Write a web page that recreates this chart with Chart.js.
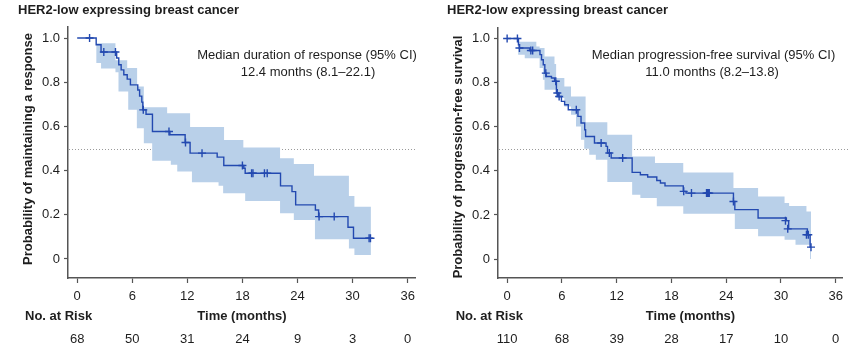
<!DOCTYPE html>
<html><head><meta charset="utf-8">
<script src="https://cdn.jsdelivr.net/npm/chart.js@4/dist/chart.umd.min.js"></script>
<style>
html,body{margin:0;padding:0;background:#fff;width:849px;height:360px;overflow:hidden}
#cl{position:absolute;left:0;top:0}
#cr{position:absolute;left:425px;top:0}
</style>
</head><body>
<canvas id="cl" width="425" height="360"></canvas>
<canvas id="cr" width="424" height="360"></canvas>
<script>
// ---------- shared ticks ----------
const xTicks = [0, 6, 12, 18, 24, 30, 36];
const yTicks = [0, 0.2, 0.4, 0.6, 0.8, 1.0];

// ---------- LEFT: duration of response ----------
const leftTitle = "HER2-low expressing breast cancer";
const leftYTitle = "Probability of maintaining a response";
const leftNote1 = "Median duration of response (95% CI)";
const leftNote2 = "12.4 months (8.1\u201322.1)";
const leftRisk = [68, 50, 31, 24, 9, 3, 0];
const leftKmTimes = [0, 2.07, 2.6, 4.3, 4.53, 4.79, 5.08, 5.45, 5.8, 6.6, 6.8, 7.04, 7.15, 7.5, 8.2, 10.1, 11.76, 12.3, 15.25, 15.97, 18.15, 18.3, 22.15, 23.4, 23.8, 25.95, 26.3, 29.5, 30.1, 31.95];
const leftKmSurv  = [1.0, 0.97, 0.937, 0.91, 0.879, 0.856, 0.834, 0.814, 0.788, 0.765, 0.737, 0.71, 0.675, 0.655, 0.577, 0.562, 0.527, 0.479, 0.461, 0.423, 0.411, 0.388, 0.331, 0.305, 0.245, 0.222, 0.192, 0.144, 0.094, 0.094];
const leftCensorTimes = [1.35, 2.9, 4.17, 7.2, 10.0, 11.8, 13.6, 18.0, 19.0, 19.15, 20.4, 20.7, 26.35, 28.0, 31.8, 31.95];
const leftCensorSurv  = [1.0, 0.937, 0.937, 0.675, 0.577, 0.527, 0.479, 0.423, 0.388, 0.388, 0.388, 0.388, 0.192, 0.192, 0.094, 0.094];
const leftUpperTimes = [2.07, 4.17, 5.45, 6.53, 7.26, 9.8, 12.3, 16.0, 18.1, 22.1, 23.6, 25.8, 29.6, 30.2, 32.0];
const leftUpperVals  = [0.977, 0.90, 0.864, 0.781, 0.687, 0.66, 0.597, 0.539, 0.505, 0.456, 0.43, 0.377, 0.285, 0.237, 0.237];
const leftLowerTimes = [2.07, 2.6, 4.17, 4.5, 5.56, 6.5, 7.26, 8.17, 10.2, 10.9, 12.5, 15.4, 15.9, 18.3, 22.1, 23.6, 25.9, 29.6, 30.2, 32.0];
const leftLowerVals  = [0.887, 0.862, 0.845, 0.758, 0.675, 0.592, 0.524, 0.445, 0.426, 0.396, 0.347, 0.331, 0.298, 0.263, 0.207, 0.177, 0.089, 0.048, 0.018, 0.018];

// ---------- RIGHT: progression-free survival ----------
const rightTitle = "HER2-low expressing breast cancer";
const rightYTitle = "Probability of progression-free survival";
const rightNote1 = "Median progression-free survival (95% CI)";
const rightNote2 = "11.0 months (8.2\u201313.8)";
const rightRisk = [110, 68, 39, 28, 17, 10, 0];
const rightKmTimes = [0, 1.24, 1.35, 2.5, 3.6, 3.77, 3.96, 4.13, 4.3, 4.86, 5.2, 5.4, 5.6, 5.95, 6.3, 6.7, 7.76, 8.1, 8.5, 8.6, 9.57, 10.84, 11.0, 11.4, 13.7, 14.6, 15.4, 16.4, 16.8, 17.3, 19.3, 19.6, 24.8, 24.95, 27.5, 30.6, 30.85, 32.9, 33.2, 33.3];
const rightKmSurv  = [1.0, 0.972, 0.957, 0.946, 0.927, 0.904, 0.881, 0.843, 0.828, 0.821, 0.806, 0.753, 0.737, 0.715, 0.70, 0.677, 0.647, 0.617, 0.586, 0.556, 0.526, 0.511, 0.481, 0.458, 0.393, 0.382, 0.372, 0.356, 0.345, 0.332, 0.307, 0.299, 0.261, 0.224, 0.186, 0.174, 0.137, 0.110, 0.054, 0.054];
const rightCensorTimes = [0, 1.13, 1.35, 2.6, 2.8, 4.24, 5.33, 5.5, 5.7, 7.58, 10.3, 11.2, 12.66, 19.35, 20.2, 21.85, 21.95, 22.05, 22.15, 24.8, 30.5, 30.75, 32.8, 33.0, 33.3];
const rightCensorSurv  = [1.0, 1.0, 0.957, 0.946, 0.946, 0.843, 0.806, 0.753, 0.737, 0.677, 0.526, 0.481, 0.458, 0.307, 0.299, 0.299, 0.299, 0.299, 0.299, 0.261, 0.174, 0.137, 0.110, 0.110, 0.054];
const rightUpperTimes = [1.2, 3.2, 3.56, 4.1, 5.19, 5.37, 6.27, 7.0, 8.6, 10.98, 13.7, 16.2, 19.3, 24.8, 27.5, 30.4, 30.9, 32.8, 33.3];
const rightUpperVals  = [0.985, 0.964, 0.957, 0.919, 0.885, 0.821, 0.783, 0.737, 0.62, 0.564, 0.465, 0.435, 0.393, 0.322, 0.284, 0.254, 0.24, 0.216, 0.216];
const rightLowerTimes = [1.2, 1.93, 3.56, 3.92, 4.1, 5.37, 6.27, 7.0, 7.55, 8.09, 8.45, 9.0, 9.72, 10.98, 13.7, 14.6, 16.4, 19.3, 24.95, 27.5, 30.4, 31.6, 33.2, 33.3];
const rightLowerVals  = [0.926, 0.91, 0.866, 0.813, 0.768, 0.73, 0.692, 0.654, 0.601, 0.541, 0.50, 0.473, 0.45, 0.349, 0.292, 0.277, 0.239, 0.205, 0.136, 0.103, 0.088, 0.065, 0.0, 0.0];

// ---------- drawing ----------
const FONT = "'Liberation Sans', Arial, Helvetica, sans-serif";
const BLUE = '#2349b0';
const BAND = '#b9d0e9';
const AXIS = '#555555';
const TXT = '#1e1e1e';

function pts(ts, vs) { return ts.map((t, i) => ({ x: t, y: vs[i] })); }

function build(id, c) {
  const txtPlugin = {
    id: 'txt' + id,
    beforeDatasetsDraw(chart) {
      const ctx = chart.ctx, ys = chart.scales.y;
      const y = Math.round(ys.getPixelForValue(0.5)) + 0.5;
      ctx.save();
      ctx.strokeStyle = '#9a9a9a';
      ctx.lineWidth = 1;
      ctx.setLineDash([1, 2]);
      ctx.beginPath();
      ctx.moveTo(c.dotFrom, y);
      ctx.lineTo(c.dotTo, y);
      ctx.stroke();
      ctx.restore();
    },
    afterDraw(chart) {
      const ctx = chart.ctx, xs = chart.scales.x;
      ctx.save();
      ctx.fillStyle = TXT;
      ctx.textBaseline = 'middle';
      // title
      ctx.font = 'bold 13px ' + FONT;
      ctx.textAlign = 'left';
      ctx.fillText(c.title, c.titleX, 10);
      // annotation
      ctx.font = '13px ' + FONT;
      ctx.textAlign = 'center';
      ctx.fillText(c.note1, c.note1X, 55);
      ctx.fillText(c.note2, c.note2X, 72);
      // axis title x
      ctx.font = 'bold 13px ' + FONT;
      ctx.fillText('Time (months)', c.timeX, 316);
      ctx.textAlign = 'left';
      ctx.fillText('No. at Risk', c.riskLabelX, 316);
      // risk numbers
      ctx.font = '13px ' + FONT;
      ctx.textAlign = 'center';
      xTicks.forEach((t, i) => {
        ctx.fillText(String(c.risk[i]), xs.getPixelForValue(t), 339);
      });
      // y title
      ctx.font = 'bold 13px ' + FONT;
      ctx.translate(c.yTitleX, c.yTitleY);
      ctx.rotate(-Math.PI / 2);
      ctx.textAlign = 'center';
      ctx.fillText(c.yTitle, 0, 0);
      ctx.restore();
    }
  };

  new Chart(document.getElementById(id), {
    type: 'line',
    data: {
      datasets: [
        { data: pts(c.censT, c.censS), showLine: false, pointStyle: 'cross', pointRadius: 4,
          pointBorderWidth: 1.4, borderColor: BLUE, pointBorderColor: BLUE, backgroundColor: BLUE },
        { data: pts(c.kmT, c.kmS), stepped: true, borderColor: BLUE, borderWidth: 1.4, pointRadius: 0, fill: false },
        { data: pts(c.loT, c.loV), stepped: true, borderWidth: 0, borderColor: 'rgba(0,0,0,0)', pointRadius: 0, fill: false },
        { data: pts(c.upT, c.upV), stepped: true, borderWidth: 0, borderColor: 'rgba(0,0,0,0)', pointRadius: 0,
          fill: '-1', backgroundColor: BAND }
      ]
    },
    options: {
      responsive: false,
      animation: false,
      events: [],
      layout: { padding: { left: 0, right: c.padRight, top: c.padTop, bottom: 0 } },
      plugins: { legend: { display: false }, tooltip: { enabled: false } },
      scales: {
        x: {
          type: 'linear', min: -1, max: 36.8,
          afterBuildTicks: s => { s.ticks = xTicks.map(v => ({ value: v })); },
          afterFit: s => { s.height = 82; },
          grid: { display: true, drawOnChartArea: false, drawTicks: true, tickLength: 5, tickColor: AXIS, tickWidth: 1.2 },
          border: { display: true, color: AXIS, width: 1.5 },
          ticks: { font: { family: FONT, size: 13 }, color: TXT, padding: 6, maxRotation: 0, autoSkip: false,
                   callback: v => String(v) }
        },
        y: {
          type: 'linear', min: -0.086, max: 1.05,
          afterBuildTicks: s => { s.ticks = yTicks.map(v => ({ value: v })); },
          afterFit: s => { s.width = c.yWidth; },
          grid: { display: true, drawOnChartArea: false, drawTicks: true, tickLength: 4, tickColor: AXIS, tickWidth: 1.2 },
          border: { display: true, color: AXIS, width: 1.5 },
          ticks: { font: { family: FONT, size: 13 }, color: TXT, padding: 4, autoSkip: false,
                   callback: v => (v === 0 ? '0' : v.toFixed(1)) }
        }
      }
    },
    plugins: [txtPlugin]
  });
}

build('cl', {
  title: leftTitle, titleX: 18, note1: leftNote1, note1X: 307, note2: leftNote2, note2X: 308,
  timeX: 242, riskLabelX: 25, risk: leftRisk, yTitle: leftYTitle, yTitleX: 28, yTitleY: 149,
  dotFrom: 69, dotTo: 416, padRight: 10, padTop: 27, yWidth: 68,
  kmT: leftKmTimes, kmS: leftKmSurv, censT: leftCensorTimes, censS: leftCensorSurv,
  upT: leftUpperTimes, upV: leftUpperVals, loT: leftLowerTimes, loV: leftLowerVals
});

build('cr', {
  title: rightTitle, titleX: 22, note1: rightNote1, note1X: 288.5, note2: rightNote2, note2X: 287,
  timeX: 265.5, riskLabelX: 30.7, risk: rightRisk, yTitle: rightYTitle, yTitleX: 33, yTitleY: 157,
  dotFrom: 74, dotTo: 424, padRight: 3.5, padTop: 27.5, yWidth: 73,
  kmT: rightKmTimes, kmS: rightKmSurv, censT: rightCensorTimes, censS: rightCensorSurv,
  upT: rightUpperTimes, upV: rightUpperVals, loT: rightLowerTimes, loV: rightLowerVals
});
</script>
</body></html>
